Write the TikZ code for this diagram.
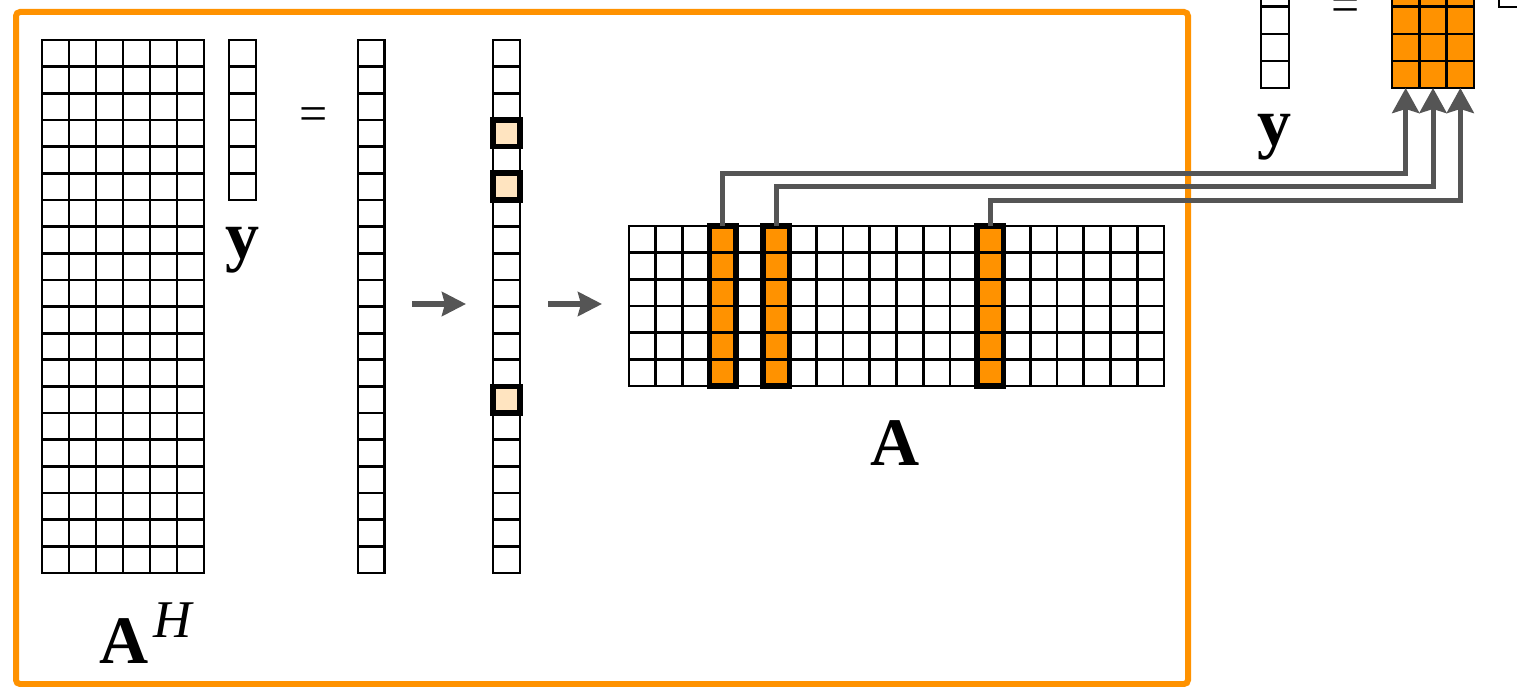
\documentclass[tikz,border=0pt]{standalone}
\usepackage{fontspec}
\setmainfont{Liberation Serif}
\usetikzlibrary{arrows.meta}
\definecolor{orng}{RGB}{255,146,0}
\definecolor{peach}{RGB}{255,228,192}
\definecolor{conn}{RGB}{85,85,85}
\newcommand\cellgrid[6]{%
  \foreach \i in {0,...,#3}{\draw[gridline] ({#1+\i*#5},{#2}) -- ({#1+\i*#5},{#2+#4*#6});}
  \foreach \j in {0,...,#4}{\draw[gridline] ({#1},{#2+\j*#6}) -- ({#1+#3*#5},{#2+\j*#6});}
}
\begin{document}
\begin{tikzpicture}[x=1pt,y=-1pt,
  gridline/.style={line width=2.7pt,black,line cap=rect},
  hlborder/.style={line width=5.5pt,black},
  frame/.style={line width=6pt,orng,rounded corners=4pt},
  connector/.style={line width=5pt,conn,-{Stealth[length=25pt,width=27pt,inset=4pt]}},
  steparrow/.style={line width=5.5pt,conn,-{Stealth[length=24pt,width=24pt,inset=3pt]}},
  biglabel/.style={font=\fontsize{68}{80}\selectfont\bfseries,inner sep=0pt,anchor=base},
  eqlabel/.style={font=\fontsize{50}{60}\selectfont,inner sep=0pt,anchor=base}]
\useasboundingbox (0,0) rectangle (1517,687);
\clip (0,0) rectangle (1517,687);

% orange frame
\draw[frame] (16,12) rectangle (1188,684);

% A^H : 20 x 6
\cellgrid{42}{40}{6}{20}{27}{26.65}
\node[inner sep=0pt,anchor=base west] (AHlab) at (99,663)
  {{\fontsize{68}{80}\selectfont\bfseries A}\hspace{5pt}\raisebox{26pt}{\fontsize{53}{60}\selectfont\itshape H}};

% y vector
\cellgrid{229}{40}{1}{6}{27}{26.67}
\node[biglabel] (ylab) at (242,258) {y};

% equals
\node[eqlabel] (eq1) at (314,131) {=};

% first result vector
\cellgrid{358}{40}{1}{20}{26.5}{26.65}

% second vector with selected entries
\cellgrid{493}{40}{1}{20}{27}{26.65}
\foreach \r in {3,5,13}{
  \draw[hlborder,fill=peach] (493,{40+\r*26.65}) rectangle (520,{40+(\r+1)*26.65});
}

% step arrows
\coordinate (s1a) at (412,304);
\coordinate (s1b) at (466,304);
\coordinate (s2a) at (548,304);
\coordinate (s2b) at (602,304);
\draw[steparrow] (s1a) -- (s1b);
\draw[steparrow] (s2a) -- (s2b);

% matrix A : 6 x 20
\foreach \c in {3,5,13}{
  \fill[orng] ({629+\c*26.75},226) rectangle ({629+(\c+1)*26.75},386);
}
\cellgrid{629}{226}{20}{6}{26.75}{26.67}
\foreach \c in {3,5,13}{
  \draw[hlborder] ({629+\c*26.75},226) rectangle ({629+(\c+1)*26.75},386);
}
\node[biglabel] (Alab) at (895,465) {A};

% top-right: vector y
\cellgrid{1261}{-20.2}{1}{4}{28}{27.05}
\node[biglabel] (ylab2) at (1274,146) {y};
\node[eqlabel] (eq2) at (1346,22) {=};

% top-right: orange sub-matrix
\fill[orng] (1392,-20.2) rectangle (1474,88);
\cellgrid{1392}{-20.2}{3}{4}{27.33}{27.05}

% partial box at the far right
\draw[gridline] (1499,-30) rectangle (1560,7);

% connectors
\coordinate (c1) at ({629+3.5*26.75},226);
\coordinate (c2) at ({629+5.5*26.75},226);
\coordinate (c3) at ({629+13.5*26.75},226);
\coordinate (t1) at (1405.7,88);
\coordinate (t2) at (1433,88);
\coordinate (t3) at (1460.3,88);
\coordinate (k1) at ({629+3.5*26.75},173.5);
\coordinate (k2) at ({629+5.5*26.75},187);
\coordinate (k3) at ({629+13.5*26.75},200.5);
\draw[connector] (c1) -- (k1) -| (t1);
\draw[connector] (c2) -- (k2) -| (t2);
\draw[connector] (c3) -- (k3) -| (t3);
\end{tikzpicture}
\end{document}
